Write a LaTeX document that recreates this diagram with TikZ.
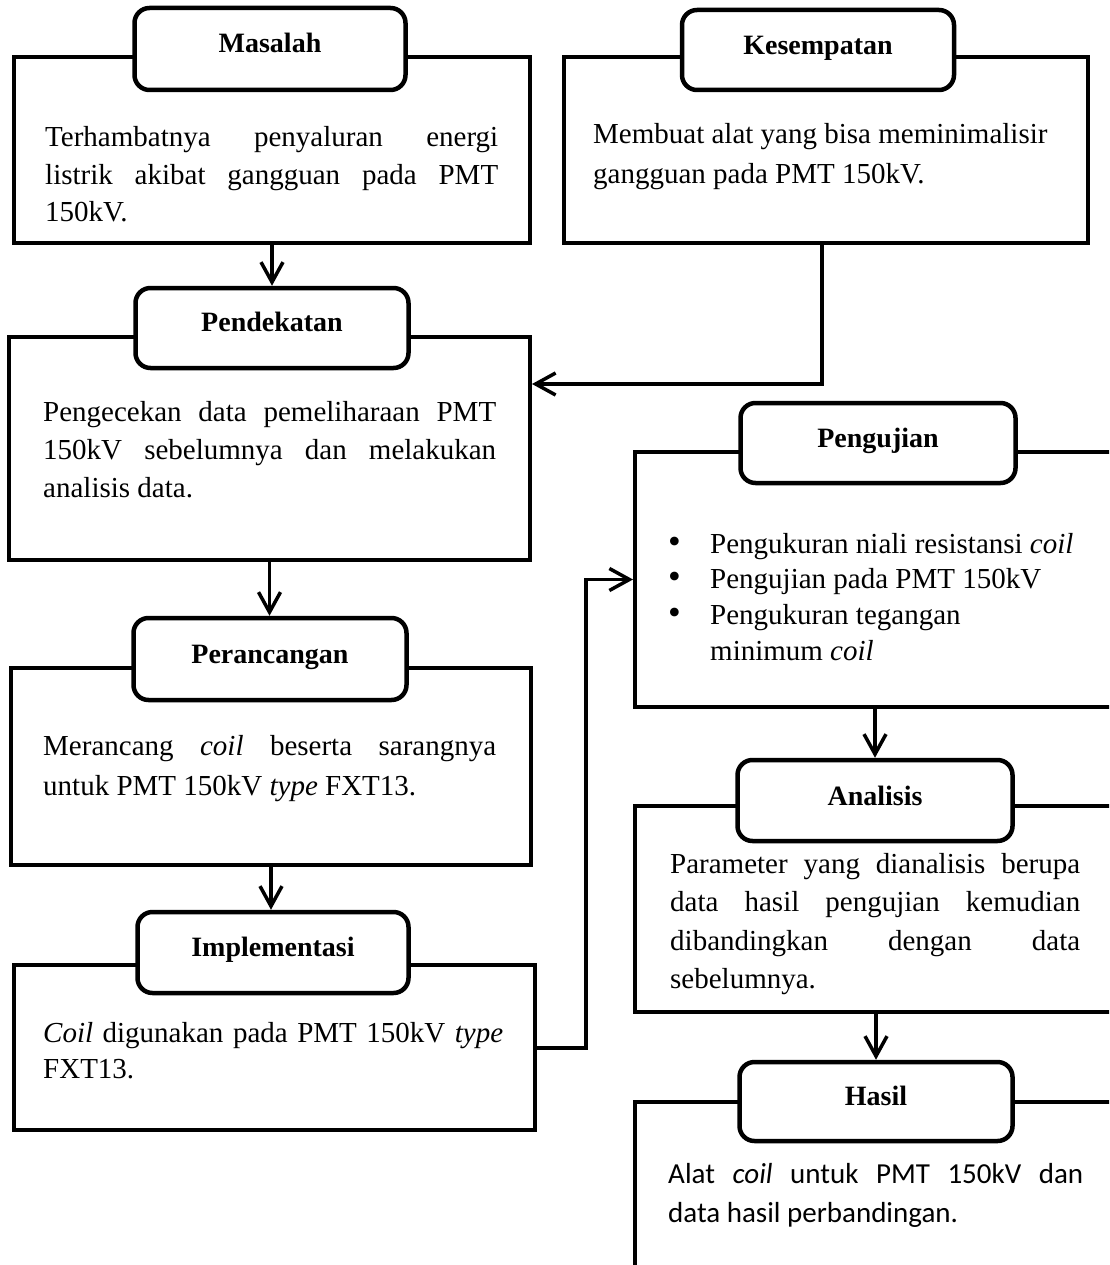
\documentclass[tikz,border=0pt]{standalone}
\usepackage{fontspec}
\setmainfont{Liberation Serif}
\newfontfamily\calibfont{Carlito}
\usetikzlibrary{arrows.meta}
\newcommand{\jl}[1]{\makebox[\linewidth][s]{#1}}
\begin{document}
\begin{tikzpicture}[x=1pt,y=-1pt,
  rectbox/.style={draw, line width=4pt, rectangle, inner sep=0pt},
  titlebox/.style={draw, line width=4.5pt, rounded corners=15pt, fill=white, inner sep=0pt},
  titletext/.style={font=\fontsize{28}{30}\selectfont\bfseries, anchor=base, inner sep=0pt},
  bodytext/.style={anchor=base west, inner sep=0pt},
  arr/.style={line width=3.5pt, -{Straight Barb[length=20pt,width=22pt]}}]
\useasboundingbox (0,0) rectangle (1109,1265);
\clip (0,0) rectangle (1109,1265);

% main rectangles
\node[rectbox, minimum width=516pt, minimum height=186pt] (mrect) at (272,150) {};
\node[rectbox, minimum width=524pt, minimum height=186pt] (krect) at (826,150) {};
\node[rectbox, minimum width=521pt, minimum height=223pt] (prect) at (269.5,448.5) {};
\node[rectbox, minimum width=520pt, minimum height=197pt] (rrect) at (271,766.5) {};
\node[rectbox, minimum width=521pt, minimum height=165pt] (irect) at (274.5,1047.5) {};
\node[rectbox, minimum width=495pt, minimum height=255pt] (urect) at (882.5,579.5) {};
\node[rectbox, minimum width=495pt, minimum height=206pt] (arect) at (882.5,909) {};
\node[rectbox, minimum width=495pt, minimum height=198pt] (hrect) at (882.5,1201) {};

% title boxes
\node[titlebox, minimum width=271pt, minimum height=82pt] (mtitle) at (270,49) {};
\node[titlebox, minimum width=272pt, minimum height=80pt] (ktitle) at (818,50) {};
\node[titlebox, minimum width=273pt, minimum height=80pt] (ptitle) at (272,328) {};
\node[titlebox, minimum width=273pt, minimum height=82pt] (rtitle) at (270,659) {};
\node[titlebox, minimum width=271pt, minimum height=81pt] (ititle) at (273,952.5) {};
\node[titlebox, minimum width=275pt, minimum height=80pt] (utitle) at (878,443) {};
\node[titlebox, minimum width=275pt, minimum height=81pt] (atitle) at (875,800.5) {};
\node[titlebox, minimum width=273pt, minimum height=79pt] (htitle) at (876,1101.5) {};

% title texts
\node[titletext] (mlabel) at (270,53) {Masalah};
\node[titletext] (klabel) at (818,55) {Kesempatan};
\node[titletext] (plabel) at (272,331) {Pendekatan};
\node[titletext] (rlabel) at (270,663) {Perancangan};
\node[titletext] (ilabel) at (273,956) {Implementasi};
\node[titletext] (ulabel) at (878,447) {Pengujian};
\node[titletext] (alabel) at (875,805) {Analisis};
\node[titletext] (hlabel) at (876,1105) {Hasil};

% body texts
\node[bodytext] (mtext) at (45,147) {\fontsize{29}{37.5}\selectfont\parbox[t]{453pt}{%
  \jl{Terhambatnya penyaluran energi}\\
  \jl{listrik akibat gangguan pada PMT}\\
  150kV.}};
\node[bodytext] (ktext) at (593,144) {\fontsize{29}{40}\selectfont\parbox[t]{490pt}{%
  Membuat alat yang bisa meminimalisir\\
  gangguan pada PMT 150kV.}};
\node[bodytext] (ptext) at (43,421) {\fontsize{29}{38}\selectfont\parbox[t]{453pt}{%
  \jl{Pengecekan data pemeliharaan PMT}\\
  \jl{150kV sebelumnya dan melakukan}\\
  analisis data.}};
\node[bodytext] (rtext) at (43,755) {\fontsize{29}{40}\selectfont\parbox[t]{453pt}{%
  \jl{Merancang \textit{coil} beserta sarangnya}\\
  untuk PMT 150kV \textit{type} FXT13.}};
\node[bodytext] (itext) at (43,1042) {\fontsize{29}{36}\selectfont\parbox[t]{460pt}{%
  \jl{\textit{Coil} digunakan pada PMT 150kV \textit{type}}\\
  FXT13.}};
\node[bodytext] (utext) at (668,553) {\fontsize{29}{35.7}\selectfont\parbox[t]{441pt}{%
  \makebox[42pt][l]{\scalebox{1.25}{•}}Pengukuran niali resistansi \textit{coil}\\
  \makebox[42pt][l]{\scalebox{1.25}{•}}Pengujian pada PMT 150kV\\
  \makebox[42pt][l]{\scalebox{1.25}{•}}Pengukuran tegangan\\
  \hspace*{42pt}minimum \textit{coil}}};
\node[bodytext] (atext) at (670,873) {\fontsize{29}{38.5}\selectfont\parbox[t]{410pt}{%
  \jl{Parameter yang dianalisis berupa}\\
  \jl{data hasil pengujian kemudian}\\
  \jl{dibandingkan dengan data}\\
  sebelumnya.}};
\node[bodytext] (htext) at (668,1183) {\calibfont\fontsize{29}{39}\selectfont\parbox[t]{415pt}{%
  \jl{Alat \textit{coil} untuk PMT 150kV dan}\\
  data hasil perbandingan.}};

% connectors
\coordinate (kbend) at (822,384);
\coordinate (ibend) at (586,1048);
\draw[arr] (mrect.south) -- (mrect.south |- ptitle.north);
\draw[arr] (prect.south) -- (prect.south |- rtitle.north);
\draw[arr] (rrect.south) -- (rrect.south |- ititle.north);
\draw[arr] (krect.south -| kbend) -- (kbend) -- (kbend -| prect.east);
\draw[arr] (irect.east |- ibend) -- (ibend) |- (urect.west);
\draw[arr] (atitle.north |- urect.south) -- (atitle.north);
\draw[arr] (htitle.north |- arect.south) -- (htitle.north);
\end{tikzpicture}
\end{document}
